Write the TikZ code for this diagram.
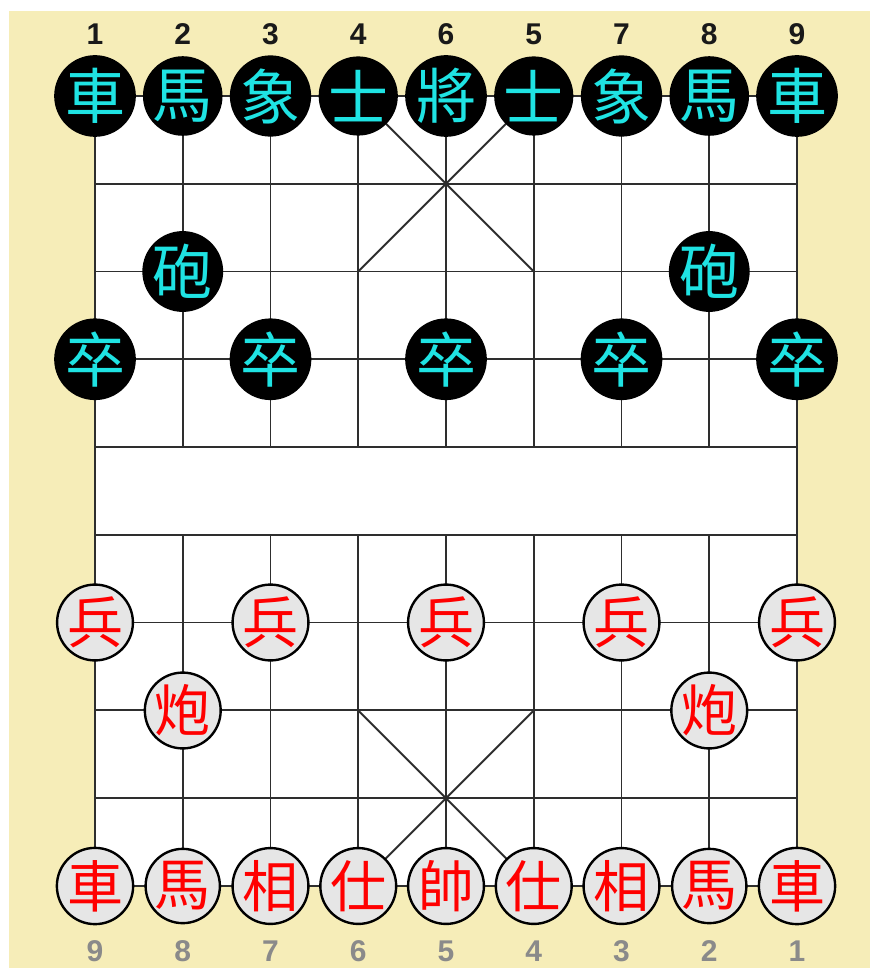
\documentclass[tikz,border=0pt]{standalone}
\usepackage{fontspec}
\setmainfont{Liberation Sans}
\newfontfamily\cjk{Noto Sans CJK TC}
\definecolor{beige}{HTML}{F6EDB8}
\definecolor{gridc}{HTML}{2E2E2E}
\definecolor{cyanc}{HTML}{1FE3E3}
\definecolor{redfill}{HTML}{E6E6E6}
\definecolor{numgray}{HTML}{8A8A8A}
\tikzset{
  blackpiece/.style={circle, fill=black, minimum size=77pt, inner sep=0pt,
     text=cyanc, font=\cjk\fontsize{60}{60}\selectfont},
  redpiece/.style={circle, fill=redfill, draw=black, line width=2.4pt, minimum size=74pt, inner sep=0pt,
     text=red, font=\cjk\fontsize{56}{56}\selectfont},
  topnum/.style={font=\bfseries\fontsize{30}{30}\selectfont, text=black!90},
  botnum/.style={font=\bfseries\fontsize{30}{30}\selectfont, text=numgray},
  gridline/.style={draw=gridc, line width=1.9pt},
}
\begin{document}
\begin{tikzpicture}[x=1pt,y=-1pt]
\useasboundingbox (0,0) rectangle (870,968);
\fill[white] (0,0) rectangle (870,968);
\fill[beige] (9,11) rectangle (870,968);
\fill[white] (95,96) rectangle (797,886);
% horizontal lines
\foreach \r in {0,...,9} {\draw[gridline] (95,{96+\r*87.75}) -- (797,{96+\r*87.75});}
% vertical lines
\foreach \c in {1,...,9} {
  \draw[gridline] ({95+(\c-1)*87.75},96) -- ({95+(\c-1)*87.75},447);
  \draw[gridline] ({95+(\c-1)*87.75},535) -- ({95+(\c-1)*87.75},886);
}
\draw[gridline] (95,96) -- (95,886);
\draw[gridline] (797,96) -- (797,886);
% palaces
\draw[gridline] (358.25,96) -- (533.75,271.5);
\draw[gridline] (533.75,96) -- (358.25,271.5);
\draw[gridline] (358.25,710.5) -- (533.75,886);
\draw[gridline] (533.75,710.5) -- (358.25,886);
% top numbers
\foreach \c/\t in {1/1,2/2,3/3,4/4,5/6,6/5,7/7,8/8,9/9}
  \node[topnum] (tn\c) at ({95+(\c-1)*87.75},34) {\t};
% bottom numbers
\foreach \c/\t in {1/9,2/8,3/7,4/6,5/5,6/4,7/3,8/2,9/1}
  \node[botnum] (bn\c) at ({95+(\c-1)*87.75},951) {\t};
% black pieces
\foreach \c/\t in {1/車,2/馬,3/象,4/士,5/將,6/士,7/象,8/馬,9/車}
  \node[blackpiece] (b0\c) at ({95+(\c-1)*87.75},96) {\t};
\foreach \c in {2,8}
  \node[blackpiece] (b2\c) at ({95+(\c-1)*87.75},271.5) {砲};
\foreach \c in {1,3,5,7,9}
  \node[blackpiece] (b3\c) at ({95+(\c-1)*87.75},359.25) {卒};
% red pieces
\foreach \c in {1,3,5,7,9}
  \node[redpiece] (r6\c) at ({95+(\c-1)*87.75},622.5) {兵};
\foreach \c in {2,8}
  \node[redpiece] (r7\c) at ({95+(\c-1)*87.75},710.5) {炮};
\foreach \c/\t in {1/車,2/馬,3/相,4/仕,5/帥,6/仕,7/相,8/馬,9/車}
  \node[redpiece] (r9\c) at ({95+(\c-1)*87.75},886) {\t};
\end{tikzpicture}
\end{document}
